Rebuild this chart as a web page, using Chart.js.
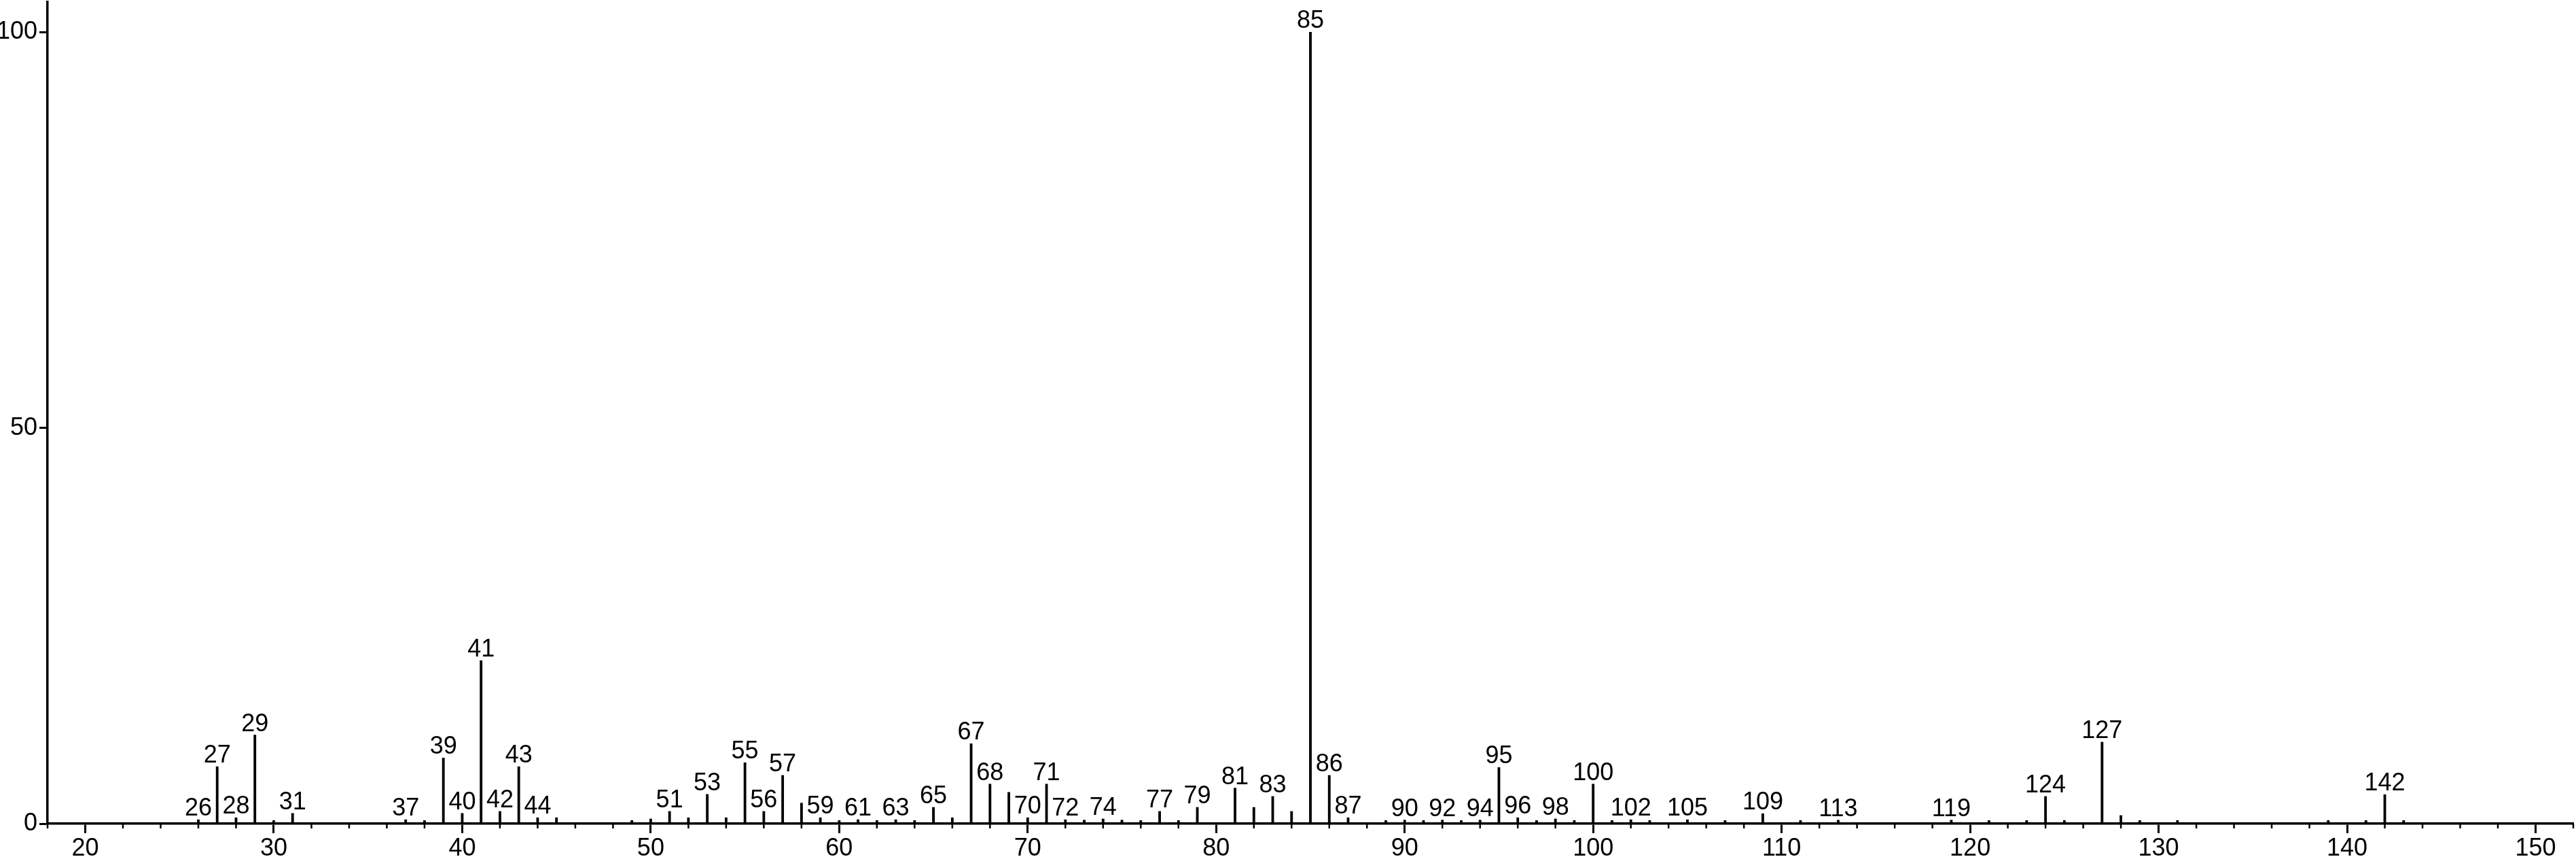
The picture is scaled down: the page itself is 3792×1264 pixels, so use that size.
<!DOCTYPE html>
<html>
<head>
<meta charset="utf-8">
<script src="https://cdn.jsdelivr.net/npm/chart.js@4.4.0/dist/chart.umd.min.js"></script>
<style>
  html, body { margin: 0; padding: 0; background: #fff; }
  #wrap { width: 3792px; height: 1264px; }
</style>
</head>
<body>
<div id="wrap"><canvas id="msChart" width="3792" height="1264"></canvas></div>
<script>
// m/z values and relative intensities
const masses = [26, 27, 28, 29, 30, 31, 37, 38, 39, 40, 41, 42, 43, 44, 45, 49, 50,
  51, 52, 53, 54, 55, 56, 57, 58, 59, 60, 61, 62, 63, 64, 65, 66, 67, 68, 69, 70,
  71, 72, 73, 74, 75, 76, 77, 78, 79, 81, 82, 83, 84, 85, 86, 87, 89, 90,
  91, 92, 93, 94, 95, 96, 97, 98, 99, 100, 101, 102, 103, 105, 107, 109,
  111, 113, 119, 121, 123, 124, 125, 127, 128, 129, 131, 139, 141, 142, 143];
const intensities = [0.5, 7.2, 0.75, 11.2, 0.4, 1.3, 0.5, 0.4, 8.3, 1.3, 20.6, 1.55, 7.2, 0.75, 0.75, 0.4, 0.6,
  1.55, 0.75, 3.7, 0.75, 7.7, 1.55, 6.1, 2.6, 0.75, 0.4, 0.5, 0.4, 0.5, 0.4, 2.06, 0.75, 10.1, 5.0, 3.96, 0.75,
  5.0, 0.5, 0.45, 0.6, 0.45, 0.4, 1.55, 0.4, 2.06, 4.5, 2.06, 3.44, 1.55, 100, 6.1, 0.75, 0.4, 0.45,
  0.4, 0.45, 0.4, 0.45, 7.1, 0.75, 0.4, 0.6, 0.4, 5.0, 0.4, 0.5, 0.4, 0.5, 0.4, 1.26,
  0.4, 0.45, 0.45, 0.4, 0.4, 3.44, 0.4, 10.3, 1.03, 0.4, 0.4, 0.4, 0.4, 3.67, 0.4];
// peaks that carry a mass label
const labeledMasses = [26, 27, 28, 29, 31, 37, 39, 40, 41, 42, 43, 44, 51, 53, 55, 56, 57, 59,
  61, 63, 65, 67, 68, 70, 71, 72, 74, 77, 79, 81, 83, 85, 86, 87, 90, 92, 94, 95, 96, 98,
  100, 102, 105, 109, 113, 119, 124, 127, 142];
const xTickValues = [20, 30, 40, 50, 60, 70, 80, 90, 100, 110, 120, 130, 140, 150];
const yTickValues = [0, 50, 100];

const FONT = '"Liberation Sans", Arial, Helvetica, sans-serif';

// small ticks every 2 units under the axis
const minorTicks = {
  id: 'minorTicks',
  afterDraw(chart) {
    const xs = chart.scales.x;
    const ctx = chart.ctx;
    const y0 = chart.chartArea.bottom;
    ctx.save();
    ctx.strokeStyle = '#000';
    ctx.lineWidth = 2.5;
    for (let v = Math.ceil(xs.min / 2) * 2; v <= xs.max; v += 2) {
      if (v % 10 === 0) continue;
      const px = xs.getPixelForValue(v);
      ctx.beginPath();
      ctx.moveTo(px, y0);
      ctx.lineTo(px, y0 + 7);
      ctx.stroke();
    }
    ctx.restore();
  }
};

// mass labels above the peaks
const peakLabels = {
  id: 'peakLabels',
  afterDatasetsDraw(chart) {
    const meta = chart.getDatasetMeta(0);
    const ctx = chart.ctx;
    ctx.save();
    ctx.font = '36px ' + FONT;
    ctx.fillStyle = '#000';
    ctx.textAlign = 'center';
    ctx.textBaseline = 'alphabetic';
    meta.data.forEach((bar, i) => {
      if (labeledMasses.includes(masses[i])) {
        ctx.fillText(String(masses[i]), bar.x, bar.y - 6);
      }
    });
    ctx.restore();
  }
};

const ctx = document.getElementById('msChart').getContext('2d');
const msChart = new Chart(ctx, {
  type: 'bar',
  data: {
    datasets: [{
      data: masses.map((m, i) => ({ x: m, y: intensities[i] })),
      backgroundColor: '#000',
      borderWidth: 0,
      barThickness: 3.2,
    }],
  },
  options: {
    responsive: false,
    animation: false,
    layout: { padding: { top: 3, right: 4, left: 0, bottom: 0 } },
    plugins: {
      legend: { display: false },
      tooltip: { enabled: false },
    },
    scales: {
      x: {
        type: 'linear',
        min: 18,
        max: 152,
        offset: false,
        afterBuildTicks: (scale) => { scale.ticks = xTickValues.map(v => ({ value: v })); },
        afterFit: (scale) => { scale.height = 52; },
        grid: {
          drawOnChartArea: false,
          drawTicks: true,
          tickLength: 14,
          tickWidth: 3,
          tickColor: '#000',
          offset: false,
        },
        border: { display: true, color: '#000', width: 3.5 },
        ticks: {
          color: '#000',
          font: { family: FONT, size: 36 },
          padding: 1,
          maxRotation: 0,
          autoSkip: false,
        },
      },
      y: {
        min: 0,
        max: 103.8,
        afterBuildTicks: (scale) => { scale.ticks = yTickValues.map(v => ({ value: v })); },
        afterFit: (scale) => {
          scale.width = 70;
          scale.paddingTop = 0;
          scale.paddingBottom = 0;
        },
        grid: {
          drawOnChartArea: false,
          drawTicks: true,
          tickLength: 12,
          tickWidth: 3,
          tickColor: '#000',
        },
        border: { display: true, color: '#000', width: 3.5 },
        ticks: {
          color: '#000',
          font: { family: FONT, size: 36 },
          padding: 3,
        },
      },
    },
  },
  plugins: [minorTicks, peakLabels],
});
</script>
</body>
</html>
